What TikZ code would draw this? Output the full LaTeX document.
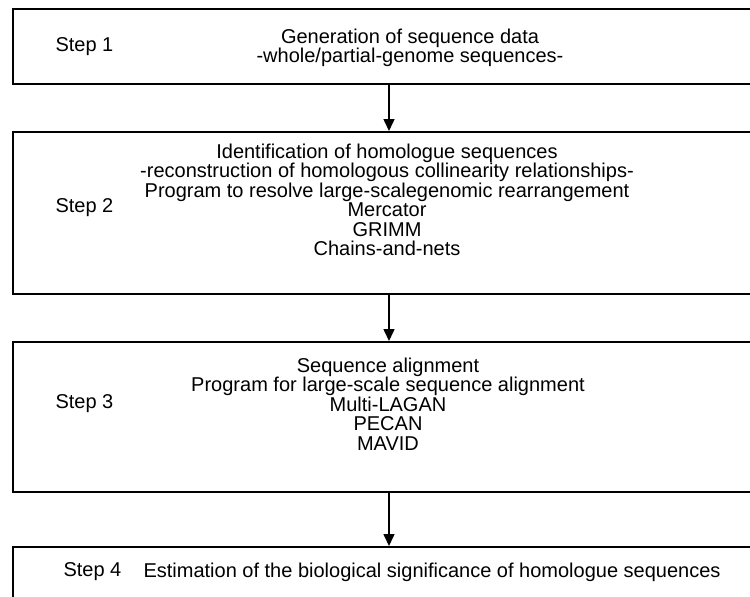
\documentclass[tikz,border=0pt]{standalone}
\usepackage{fontspec}
\setmainfont{Liberation Sans}
\usetikzlibrary{arrows.meta, calc}

\begin{document}
\begin{tikzpicture}[x=1pt, y=-1pt,
    stepbox/.style={draw, line width=1.6pt, anchor=north west, minimum width=745pt, inner sep=0pt},
    steplabel/.style={anchor=west, font=\fontsize{20}{19.5}\selectfont},
    steptext/.style={align=center, font=\fontsize{20}{19.5}\selectfont},
    flow/.style={-{Triangle[length=12pt, width=11pt]}, line width=1.6pt}]

%%Paramaters
%% left edge of the boxes, x of the arrows, x of the step labels
\def\boxLeft{12}
\def\arrowX{389}
\def\labelX{52}

\useasboundingbox (0,0) rectangle (750,597);
\clip (0,0) rectangle (750,597);

    \coordinate (arrowTop) at (\arrowX, 0);

    %% Step 1
    \node[stepbox, minimum height=75pt] at (\boxLeft, 8) (box1) {};
    \node[steplabel] at (\labelX, 47) (step1) {Step 1};
    \node[steptext] at (410, 48) (text1) {Generation of sequence data\\-whole/partial-genome sequences-};

    %% Step 2
    \node[stepbox, minimum height=162pt] at (\boxLeft, 131) (box2) {};
    \node[steplabel] at (\labelX, 208) (step2) {Step 2};
    \node[steptext] at (387, 200) (text2) {Identification of homologue sequences\\-reconstruction of homologous collinearity relationships-\\Program to resolve large-scalegenomic rearrangement\\Mercator\\GRIMM\\Chains-and-nets};

    %% Step 3
    \node[stepbox, minimum height=150pt] at (\boxLeft, 341) (box3) {};
    \node[steplabel] at (\labelX, 404) (step3) {Step 3};
    \node[steptext] at (388, 404) (text3) {Sequence alignment\\Program for large-scale sequence alignment\\Multi-LAGAN\\PECAN\\MAVID};

    %% Step 4
    \node[stepbox, minimum height=90pt] at (\boxLeft, 546) (box4) {};
    \node[steplabel] at (60, 572) (step4) {Step 4};
    \node[steplabel] at (140, 572) (text4) {Estimation of the biological significance of homologue sequences};

    %% arrows between the steps
    \draw[flow] (box1.south -| arrowTop) -- (box2.north -| arrowTop);
    \draw[flow] (box2.south -| arrowTop) -- (box3.north -| arrowTop);
    \draw[flow] (box3.south -| arrowTop) -- (box4.north -| arrowTop);

\end{tikzpicture}
\end{document}
